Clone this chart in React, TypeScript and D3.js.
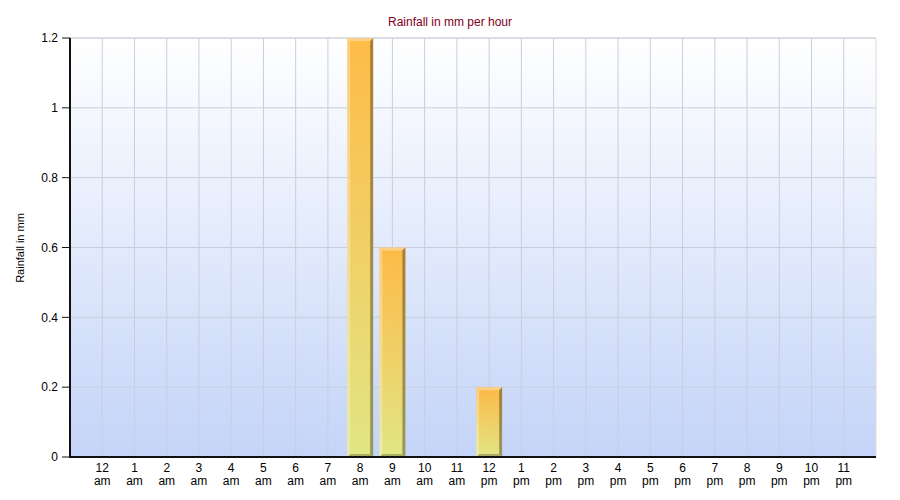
import React from "react";
import * as d3 from "d3";

const hours = ["12", "1", "2", "3", "4", "5", "6", "7", "8", "9", "10", "11", "12", "1", "2", "3", "4", "5", "6", "7", "8", "9", "10", "11"];
const periods = ["am", "am", "am", "am", "am", "am", "am", "am", "am", "am", "am", "am", "pm", "pm", "pm", "pm", "pm", "pm", "pm", "pm", "pm", "pm", "pm", "pm"];
const rainfall = [0, 0, 0, 0, 0, 0, 0, 0, 1.2, 0.6, 0, 0, 0.2, 0, 0, 0, 0, 0, 0, 0, 0, 0, 0, 0];
const yTicks = [0, 0.2, 0.4, 0.6, 0.8, 1, 1.2];

const W = 900, H = 500;
const left = 70, right = 876, top = 38, bottom = 457;
const font = "'Liberation Sans', Arial, sans-serif";

export default function App() {
  const x = d3.scaleLinear().domain([0, hours.length + 1]).range([left, right]);
  const y = d3.scaleLinear().domain([0, 1.2]).range([bottom, top]);
  const bw = 26;
  const b = 3;

  return (
    <svg width={W} height={H} style={{ position: "absolute", left: 0, top: 0, display: "block" }}>
      <defs>
        <linearGradient id="bg" x1="0" y1="0" x2="0" y2="1">
          <stop offset="0" stopColor="#ffffff" />
          <stop offset="1" stopColor="#c4d4f8" />
        </linearGradient>
        <linearGradient id="bar" x1="0" y1="0" x2="0" y2="1">
          <stop offset="0" stopColor="#ffb83c" />
          <stop offset="0.5" stopColor="#f2cf5e" />
          <stop offset="1" stopColor="#e3e77e" />
        </linearGradient>
      </defs>
      <rect x={0} y={0} width={W} height={H} fill="#ffffff" />
      <rect x={left} y={top} width={right - left} height={bottom - top} fill="url(#bg)" stroke="#dcdcdc" strokeWidth={1} />
      {yTicks.map((t) => (
        <line key={"hg" + t} x1={left} x2={right} y1={y(t)} y2={y(t)} stroke="#c8cedb" strokeWidth={1} />
      ))}
      {hours.map((h, i) => (
        <line key={"vg" + i} x1={x(i + 1)} x2={x(i + 1)} y1={top} y2={bottom} stroke="#c8cedb" strokeWidth={1} />
      ))}
      {rainfall.map((v, i) => {
        if (v <= 0) return null;
        const cx = x(i + 1);
        const x0 = cx - bw / 2, x1 = cx + bw / 2;
        const y0 = y(v), y1 = y(0);
        return (
          <g key={"bar" + i} opacity={0.94}>
            <rect x={x0} y={y0} width={bw} height={y1 - y0} fill="url(#bar)" />
            <polygon points={`${x0},${y0} ${x1},${y0} ${x1 - b},${y0 + b} ${x0 + b},${y0 + b}`} fill="#ffffff" fillOpacity={0.35} />
            <polygon points={`${x0},${y0} ${x0 + b},${y0 + b} ${x0 + b},${y1 - b} ${x0},${y1}`} fill="#ffffff" fillOpacity={0.3} />
            <polygon points={`${x1},${y0} ${x1},${y1} ${x1 - b},${y1 - b} ${x1 - b},${y0 + b}`} fill="#000000" fillOpacity={0.35} />
            <polygon points={`${x0},${y1} ${x1},${y1} ${x1 - b},${y1 - b} ${x0 + b},${y1 - b}`} fill="#000000" fillOpacity={0.25} />
          </g>
        );
      })}
      <line x1={left} x2={right} y1={bottom} y2={bottom} stroke="#111" strokeWidth={2} />
      <line x1={left} x2={left} y1={top} y2={bottom + 1} stroke="#111" strokeWidth={2} />
      {yTicks.map((t) => (
        <g key={"yt" + t}>
          <line x1={left - 8} x2={left} y1={y(t)} y2={y(t)} stroke="#111" strokeWidth={1} />
          <text x={left - 12} y={y(t)} dy="0.35em" textAnchor="end" fontFamily={font} fontSize={12} fill="#000">
            {String(t)}
          </text>
        </g>
      ))}
      {hours.map((h, i) => (
        <g key={"xl" + i}>
          <text x={x(i + 1)} y={472} textAnchor="middle" fontFamily={font} fontSize={12} fill="#000">{h}</text>
          <text x={x(i + 1)} y={485} textAnchor="middle" fontFamily={font} fontSize={12} fill="#000">{periods[i]}</text>
        </g>
      ))}
      <text x={450} y={26} textAnchor="middle" fontFamily={font} fontSize={12} fill="#800020">Rainfall in mm per hour</text>
      <text transform={`translate(24,248) rotate(-90)`} textAnchor="middle" fontFamily={font} fontSize={11} fill="#000">Rainfall in mm</text>
    </svg>
  );
}
